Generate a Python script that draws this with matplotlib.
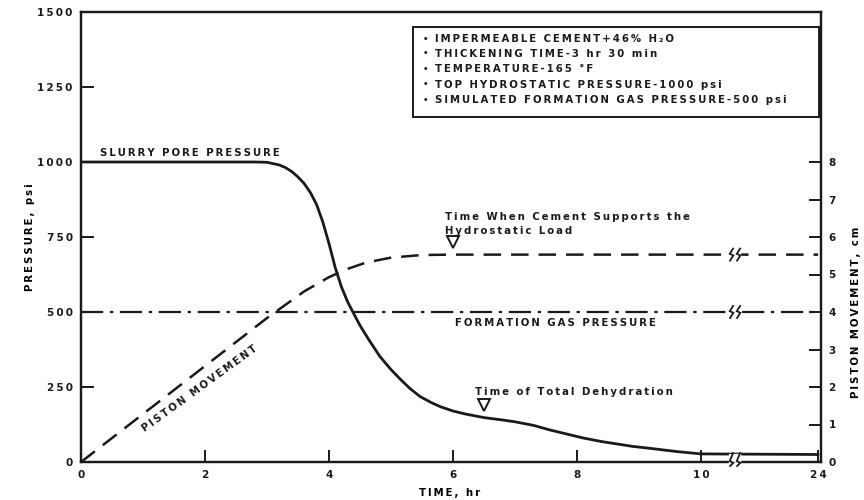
import numpy as np
import matplotlib
matplotlib.use("Agg")
import matplotlib.pyplot as plt
from matplotlib.patches import Rectangle
from matplotlib.transforms import ScaledTranslation

plt.rcParams["font.family"] = ["DejaVu Sans"]
plt.rcParams["font.weight"] = "bold"

slurry_t = [0, 1, 2, 2.8, 3.0, 3.2, 3.3, 3.4, 3.5, 3.6, 3.7, 3.8, 3.9, 4.0, 4.1, 4.2, 4.3, 4.4,
            4.5, 4.65, 4.82, 5.0, 5.15, 5.3, 5.47, 5.65, 5.8, 6.0, 6.2, 6.5, 6.8, 7.0, 7.3, 7.56,
            7.8, 8.1, 8.4, 8.65, 8.9, 9.2, 9.6, 10.0, 24]
slurry_p = [1000, 1000, 1000, 1000, 999, 990, 981, 968, 950, 928, 898, 858, 800, 728, 648, 584,
            534, 494, 455, 405, 352, 308, 276, 246, 218, 198, 184, 170, 160, 148, 140, 134, 122, 107,
            95, 80, 68, 60, 52, 45, 35, 27, 25]

piston_t = [0, 1, 2, 3, 3.6, 4.0, 4.3, 4.6, 5.0, 5.5, 6.0, 24]
piston_cm = [0, 1.28, 2.56, 3.84, 4.55, 4.93, 5.15, 5.32, 5.45, 5.52, 5.53, 5.53]

gas_t = [0, 24]
gas_p = [500, 500]

x_ticks = [0, 2, 4, 6, 8, 10, 24]
p_ticks = [0, 250, 500, 750, 1000, 1250, 1500]
cm_ticks = [0, 1, 2, 3, 4, 5, 6, 7, 8]

notes = [
    "IMPERMEABLE CEMENT+46% H\u2082O",
    "THICKENING TIME-3 hr 30 min",
    "TEMPERATURE-165 °F",
    "TOP HYDROSTATIC PRESSURE-1000 psi",
    "SIMULATED FORMATION GAS PRESSURE-500 psi",
]

# compressed axis after 10 hr (broken axis 10 -> 24)
K = 1.89 / 14


def fwd(t):
    t = np.asarray(t, dtype=float)
    return np.where(t <= 10, t, 10 + (t - 10) * K)


def inv(x):
    x = np.asarray(x, dtype=float)
    return np.where(x <= 10, x, 10 + (x - 10) / K)


def sp(s):
    # old typewriter-style lettering: widen the spacing a bit
    return "\u2009".join(s)


fig = plt.figure(figsize=(8.64, 5), dpi=100)
ax = fig.add_axes([0.0938, 0.076, 0.857, 0.9])
ax.set_xscale("function", functions=(fwd, inv))
ax.set_xlim(0, 24.4)
ax.set_ylim(0, 1500)
ax2 = ax.twinx()
ax2.set_ylim(0, 12)

ink = "#1a1a1a"
ax.plot(slurry_t, slurry_p, color=ink, lw=2.0, solid_capstyle="round", solid_joinstyle="round")
ax.plot(gas_t, gas_p, color=ink, lw=1.6, dashes=(10, 3, 1.5, 3))
ax2.plot(piston_t, piston_cm, color=ink, lw=1.8, dashes=(7, 4))

# axis styling
for a in (ax, ax2):
    for s in a.spines.values():
        s.set_linewidth(1.6)
        s.set_color(ink)
ax.set_xticks(x_ticks)
ax.set_xticklabels([sp(str(v)) for v in x_ticks])
ax.set_yticks(p_ticks)
ax.set_yticklabels([sp(str(v)) for v in p_ticks])
ax2.set_yticks(cm_ticks)
ax2.set_yticklabels([str(v) for v in cm_ticks])
ax.tick_params(direction="in", length=9, width=1.4, labelsize=7.5, colors=ink, pad=6)
ax2.tick_params(direction="in", length=9, width=1.4, labelsize=7.5, colors=ink, pad=5)
ax.minorticks_off()

ax.set_xlabel(sp("TIME, hr"), fontsize=7.3, fontweight="bold")
ax.xaxis.set_label_coords(0.498, -0.058)
ax.set_ylabel(sp("PRESSURE, psi"), fontsize=7.3, fontweight="bold")
ax.yaxis.set_label_coords(-0.062, 0.5)
ax2.set_ylabel(sp("PISTON MOVEMENT, cm"), fontsize=7.3, fontweight="bold")
ax2.yaxis.set_label_coords(1.0405, 4 / 12)

# break marks where the time axis jumps from 10 to 24 hr
x_brk = float(inv(10.55))
fig.canvas.draw()
to_fig = fig.transFigure.inverted()


def px_line(x0, y0, xs, ys, **kw):
    pts = np.column_stack([x0 + np.asarray(xs), y0 + np.asarray(ys)])
    f = to_fig.transform(pts)
    fig.add_artist(plt.Line2D(f[:, 0], f[:, 1], **kw))


def break_mark(base, y, lo=-6, hi=6):
    x0, y0 = base.transform((x_brk, y))
    # white gap behind the marks
    for yy in np.arange(lo + 2, hi - 1, 1.0):
        px_line(x0, y0, [-5, 5], [yy, yy], color="white", lw=1.6, zorder=5)
    zx = np.array([-1.5, 1.8, -1.8, 1.5])
    zy = np.array([lo, -0.8, 0.8, hi]) * 1.0
    for dx in (-3.5, 3.5):
        px_line(x0 + dx, y0, zx, zy, color=ink, lw=1.3, zorder=6, solid_joinstyle="miter")


break_mark(ax.transData, 500)
break_mark(ax2.transData, 5.53)
break_mark(ax.get_xaxis_transform(), 0, lo=-4, hi=9)

# event markers
mk = dict(marker="v", ms=8, mfc="white", mec=ink, mew=1.4, ls="none", zorder=5)
ax2.plot([6.0], [5.53], transform=ax2.transData + ScaledTranslation(0, 9 / 72, fig.dpi_scale_trans), **mk)
ax.plot([6.5], [np.interp(6.5, slurry_t, slurry_p)],
        transform=ax.transData + ScaledTranslation(0, 9 / 72, fig.dpi_scale_trans), **mk)

# labels on the plot
fs = 7.3
tx = dict(fontsize=fs, fontweight="bold", color=ink)
ax.text(0.3, 1015, sp("SLURRY PORE PRESSURE"), va="bottom", **tx)
ax.text(5.87, 753, sp("Time When Cement Supports the") + "\n" + sp("Hydrostatic Load"),
        va="bottom", linespacing=1.55, **tx)
ax.text(6.03, 463, sp("FORMATION GAS PRESSURE"), va="center", **tx)
ax.text(6.35, 233, sp("Time of Total Dehydration"), va="center", **tx)
ax.text(1.92, 245, sp("PISTON MOVEMENT"), va="center", ha="center", rotation=36,
        rotation_mode="anchor", **tx)

# notes box
ax.add_patch(Rectangle((0.448, 0.767), 0.549, 0.2, transform=ax.transAxes, fill=False,
                       ec=ink, lw=1.4, zorder=3))
note_y = [0.940, 0.907, 0.873, 0.838, 0.804]
for yy, txt in zip(note_y, notes):
    ax.text(0.462, yy, "•", transform=ax.transAxes, fontsize=6, color=ink, va="center")
    ax.text(0.478, yy, sp(txt), transform=ax.transAxes, va="center", **tx)

fig.savefig("out.png", dpi=100)
